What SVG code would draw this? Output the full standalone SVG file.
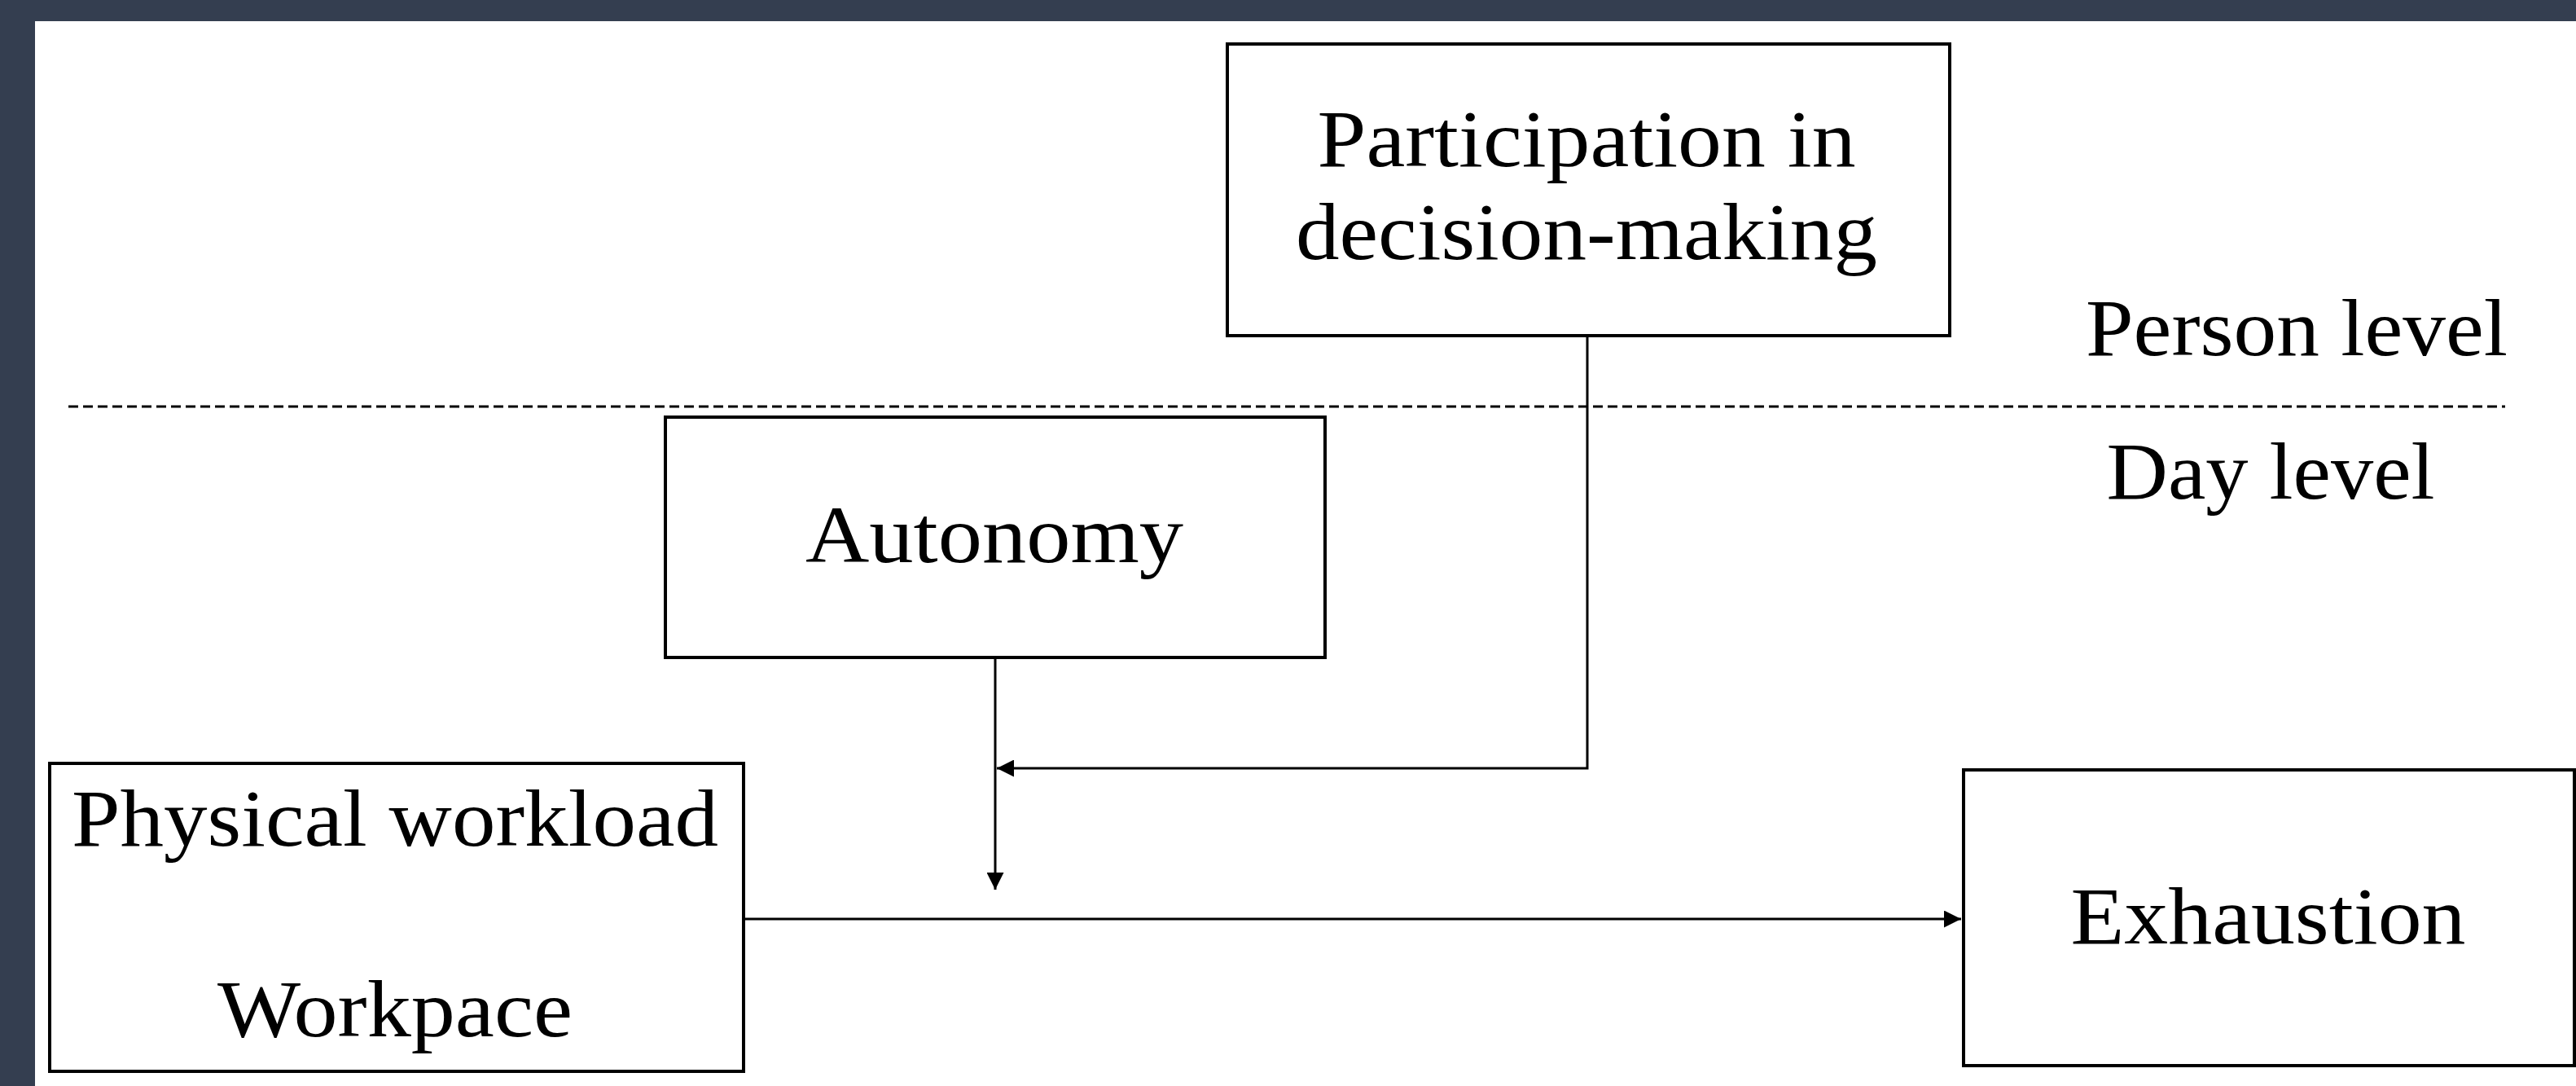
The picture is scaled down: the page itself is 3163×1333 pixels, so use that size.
<svg xmlns="http://www.w3.org/2000/svg" width="3163" height="1333" viewBox="0 0 3163 1333">
<defs>
<style>
.bg{fill:#343e50}
.box{fill:#ffffff;stroke:#000000;stroke-width:4}
.lbl{font-family:"Liberation Serif","Times New Roman",serif;font-size:100px;fill:#000000;text-anchor:middle}
.conn{fill:none;stroke:#000000;stroke-width:3}
.dash{fill:none;stroke:#000000;stroke-width:3;stroke-dasharray:12 6}
</style>
<marker id="arr" viewBox="0 0 10 10" refX="10" refY="5" markerWidth="7" markerHeight="7" orient="auto" markerUnits="strokeWidth">
<path d="M0,0 L10,5 L0,10 z" fill="#000000"/>
</marker>
</defs>
<rect class="bg" x="0" y="0" width="3163" height="1333"/>
<rect x="43" y="26" width="3120" height="1307" fill="#ffffff"/>
<g id="levels">
<line class="dash" x1="84" y1="499" x2="3076" y2="499"/>
<text class="lbl" x="2820" y="436" textLength="518" lengthAdjust="spacingAndGlyphs">Person level</text>
<text class="lbl" x="2788" y="612" textLength="403" lengthAdjust="spacingAndGlyphs">Day level</text>
</g>
<g id="connectors">
<line class="conn" x1="1222" y1="808" x2="1222" y2="1092" marker-end="url(#arr)"/>
<polyline class="conn" points="1949,414 1949,943 1224,943" marker-end="url(#arr)"/>
<line class="conn" x1="914" y1="1128" x2="2408" y2="1128" marker-end="url(#arr)"/>
</g>
<g id="participation">
<rect class="box" x="1507" y="54" width="887" height="358"/>
<text class="lbl" x="1948" y="204" textLength="661" lengthAdjust="spacingAndGlyphs">Participation in</text>
<text class="lbl" x="1948" y="318" textLength="714" lengthAdjust="spacingAndGlyphs">decision-making</text>
</g>
<g id="autonomy">
<rect class="box" x="817" y="512" width="810" height="295"/>
<text class="lbl" x="1221" y="690" textLength="464" lengthAdjust="spacingAndGlyphs">Autonomy</text>
</g>
<g id="physical">
<rect class="box" x="61" y="937" width="852" height="378"/>
<text class="lbl" x="485" y="1038" textLength="794" lengthAdjust="spacingAndGlyphs">Physical workload</text>
<text class="lbl" x="485" y="1272" textLength="436" lengthAdjust="spacingAndGlyphs">Workpace</text>
</g>
<g id="exhaustion">
<rect class="box" x="2411" y="945" width="750" height="363"/>
<text class="lbl" x="2785" y="1158" textLength="485" lengthAdjust="spacingAndGlyphs">Exhaustion</text>
</g>
</svg>
